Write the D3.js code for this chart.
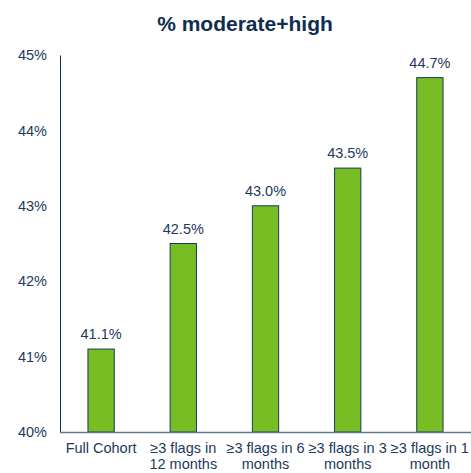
<!DOCTYPE html>
<html><head><meta charset="utf-8">
<script src="https://cdn.jsdelivr.net/npm/d3@7"></script>
<style>body{margin:0;background:#fff}svg{display:block;font-family:"Liberation Sans",Arial,sans-serif}</style>
</head><body><svg id="c" width="471" height="473"></svg>
<script>
const categories = [["Full Cohort"], ["≥3 flags in", "12 months"], ["≥3 flags in 6", "months"], ["≥3 flags in 3", "months"], ["≥3 flags in 1", "month"]];
const values = [41.1, 42.5, 43.0, 43.5, 44.7];
const yTicks = [40, 41, 42, 43, 44, 45];
const title = "% moderate+high";

const svg = d3.select("#c");
const textColor = "#1d3a5c";
const x = d3.scaleBand().domain(d3.range(values.length)).range([60, 471]).paddingInner(0.68).paddingOuter(0.34);
const y = d3.scaleLinear().domain([40, 45]).range([432, 55]);

svg.append("text").attr("x", 245).attr("y", 31).attr("text-anchor", "middle")
  .attr("font-size", 21).attr("font-weight", "bold").attr("fill", "#0f2d4f").text(title);

const yAxis = svg.append("g").attr("transform", "translate(60,0)")
  .call(d3.axisLeft(y).tickValues(yTicks).tickFormat(d => d + "%").tickSize(0).tickPadding(13));
yAxis.select(".domain").attr("stroke", "#0f2d4f").attr("stroke-width", 1);
yAxis.selectAll("text").attr("font-size", 14.5).attr("fill", textColor).attr("font-family", "Liberation Sans, Arial, sans-serif");

svg.selectAll("rect.bar").data(values).join("rect").attr("class", "bar")
  .attr("x", (d, i) => x(i)).attr("width", x.bandwidth())
  .attr("y", d => y(d)).attr("height", d => y(40) - y(d))
  .attr("fill", "#78bd24").attr("stroke", "#163a5a").attr("stroke-width", 1);

svg.append("line").attr("x1", 60).attr("x2", 471).attr("y1", 432.5).attr("y2", 432.5)
  .attr("stroke", "#5e7a94").attr("stroke-width", 1.5);

svg.selectAll("text.val").data(values).join("text").attr("class", "val")
  .attr("x", (d, i) => x(i) + x.bandwidth() / 2).attr("y", d => y(d) - 10)
  .attr("text-anchor", "middle").attr("font-size", 14.5).attr("fill", textColor)
  .text(d => d.toFixed(1) + "%");

const xl = svg.selectAll("text.cat").data(categories).join("text").attr("class", "cat")
  .attr("x", (d, i) => x(i) + x.bandwidth() / 2).attr("y", 453)
  .attr("text-anchor", "middle").attr("font-size", 14.5).attr("fill", textColor);
xl.selectAll("tspan").data(d => d).join("tspan")
  .attr("x", function() { return this.parentNode.getAttribute("x"); })
  .attr("dy", (d, i) => i === 0 ? 0 : 16).text(d => d);
</script></body></html>
